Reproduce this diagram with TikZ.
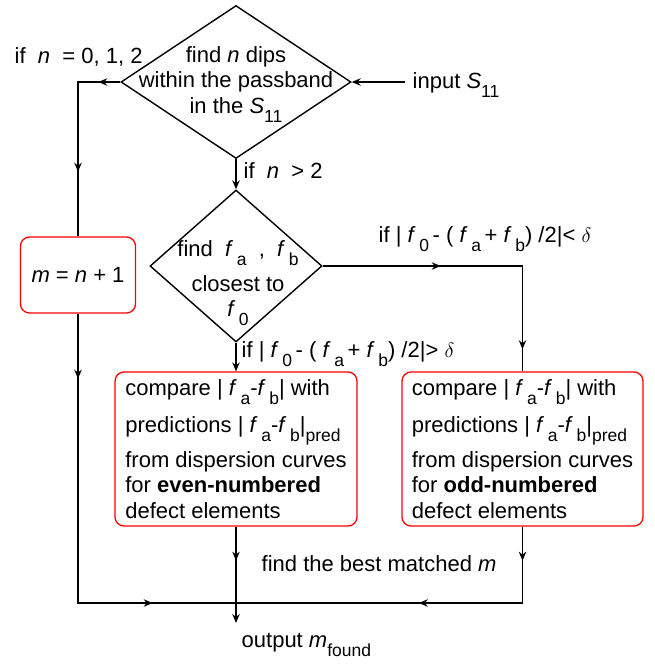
\documentclass[tikz,border=0pt]{standalone}
\usepackage{fontspec}
\setmainfont{Liberation Sans}
\usetikzlibrary{shapes.geometric,arrows.meta,decorations.markings}
\newcommand{\sbs}[1]{\raisebox{-9pt}[0pt][0pt]{\fontsize{17.5}{17.5}\selectfont #1}}
\begin{document}
\begin{tikzpicture}[x=1pt, y=-1pt, line width=1.4pt,
    txt/.style={font=\fontsize{22}{25.5}\selectfont, inner sep=0pt},
    decision/.style={diamond, draw, inner sep=0pt},
    procbox/.style={draw=red, line width=1.3pt, rounded corners=9pt, txt, align=left},
    tip/.style={-{Stealth[length=9pt,width=7.5pt,inset=3pt]}},
    midarr/.style={postaction={decorate, decoration={markings,
        mark=at position #1 with {\arrow{Stealth[length=9pt,width=7.5pt,inset=3pt]}}}}}]
  \useasboundingbox (0,0) rectangle (654,664);

  % decisions
  \node[decision, minimum width=230pt, minimum height=153pt] (dips) at (236,82) {};
  \node[txt, align=center] (dipstxt) at (236,80)
    {find \textit{n} dips\\within the passband\\in the \textit{S}\sbs{11}};
  \node[decision, minimum width=172pt, minimum height=152pt] (close) at (236,266) {};
  \node[txt, align=center] (closetxt) at (238,279)
    {find\ \ \textit{f}\,\sbs{a}\ \ ,\ \ \textit{f}\,\sbs{b}\\[9pt]closest to\\\textit{f}\,\sbs{0}};

  % boxes
  \node[procbox, minimum width=115pt, minimum height=76pt] (mbox) at (78,275)
    {\textit{m} = \textit{n} + 1};
  \node[procbox, minimum width=242pt, minimum height=154pt] (even) at (236,449)
    {compare | \textit{f}\,\sbs{a}-\textit{f}\,\sbs{b}| with\\[11.5pt]
     predictions | \textit{f}\,\sbs{a}-\textit{f}\,\sbs{b}|\sbs{pred}\\[9.5pt]
     from dispersion curves\\
     for \textbf{even-numbered}\\
     defect elements};
  \node[procbox, minimum width=241pt, minimum height=154pt] (odd) at (522.5,449)
    {compare | \textit{f}\,\sbs{a}-\textit{f}\,\sbs{b}| with\\[11.5pt]
     predictions | \textit{f}\,\sbs{a}-\textit{f}\,\sbs{b}|\sbs{pred}\\[9.5pt]
     from dispersion curves\\
     for \textbf{odd-numbered}\\
     defect elements};

  % labels
  \node[txt, anchor=base west, inner xsep=7pt] (inp) at (405,88) {input \textit{S}\sbs{11}};
  \node[txt, anchor=base west] (small) at (14,63) {if\ \ \textit{n}\ \ = 0, 1, 2};
  \node[txt, anchor=base west] (big) at (243,178) {if\ \ \textit{n}\ \ > 2};
  \node[txt, anchor=base west] (near) at (378,242)
    {if | \textit{f}\,\sbs{0}\,- ( \textit{f}\,\sbs{a}\,+ \textit{f}\,\sbs{b}) /2|< $\delta$};
  \node[txt, anchor=base west] (far) at (241,357)
    {if | \textit{f}\,\sbs{0}\,- ( \textit{f}\,\sbs{a}\,+ \textit{f}\,\sbs{b}) /2|> $\delta$};
  \node[txt, anchor=base west] (best) at (261,571) {find the best matched \textit{m}};
  \node[txt, anchor=base west] (outtxt) at (241,647) {output \textit{m}\sbs{found}};

  \coordinate (lturn) at (mbox.north |- dips.west);
  \coordinate (rturn) at (odd.north |- close.east);
  \coordinate (join) at (236,603);
  \coordinate (bl) at (mbox |- join);
  \coordinate (br) at (odd |- join);
  \coordinate (out) at (236,623);

  % connectors
  \draw[tip] (inp.west |- dips.east) -- (dips.east);
  \draw[midarr=22pt, midarr=132pt] (dips.west) -- (lturn) -- (mbox.north);
  \draw[tip] (dips.south) -- (close.north);
  \draw[midarr=118pt, midarr=283pt] (close.east) -- (rturn) -- (odd.north);
  \draw[tip] (close.south) -- (even.north);
  \draw[midarr=65pt, midarr=364pt] (mbox.south) -- (bl) -- (join);
  \draw[midarr=34pt, midarr=180pt] (odd.south) -- (br) -- (join);
  \draw[tip, midarr=34pt] (even.south) -- (join) -- (out);
\end{tikzpicture}
\end{document}
